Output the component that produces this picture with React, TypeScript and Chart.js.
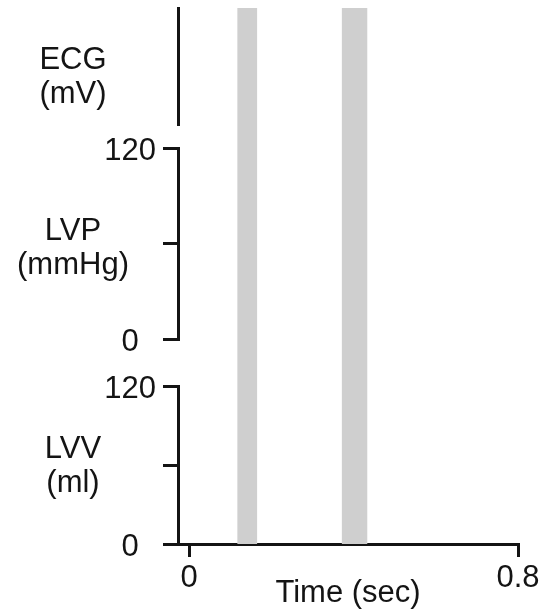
import React, { useEffect, useRef } from 'react';
import { Chart, registerables } from 'chart.js';

Chart.register(...registerables);

// ---- data ----
const timeTicks = [0, 0.8];
const timeTickLabels = ['0', '0.8'];
const lvpTicks = [0, 60, 120];
const lvpTickLabels = ['0', '', '120'];
const lvvTicks = [0, 60, 120];
const lvvTickLabels = ['0', '', '120'];
const ecgTitle = ['ECG', '(mV)'];
const lvpTitle = ['LVP', '(mmHg)'];
const lvvTitle = ['LVV', '(ml)'];
const xTitle = 'Time (sec)';
const band1 = [0.117, 0.166]; // shaded interval 1 (sec)
const band2 = [0.371, 0.434]; // shaded interval 2 (sec)

// ---- style ----
const FONT = '"Liberation Sans", Arial, Helvetica, sans-serif';
const FS = 31;
const INK = '#141414';
const BAND = '#cfcfcf';
const LW = 3;

const panelTitlePlugin = {
  id: 'panelTitles',
  afterDraw(chart: any) {
    const ctx = chart.ctx;
    const panels = [
      { id: 'yECG', at: 0.41, lines: ecgTitle },
      { id: 'yLVP', at: 57, lines: lvpTitle },
      { id: 'yLVV', at: 59, lines: lvvTitle },
    ];
    ctx.save();
    ctx.font = `${FS}px ${FONT}`;
    ctx.fillStyle = INK;
    ctx.textAlign = 'center';
    ctx.textBaseline = 'middle';
    for (const p of panels) {
      const s = chart.scales[p.id];
      const yc = s.getPixelForValue(p.at);
      p.lines.forEach((t: string, i: number) => {
        ctx.fillText(t, 73, yc + (i - (p.lines.length - 1) / 2) * 34);
      });
    }
    ctx.restore();
  },
};

const fixW = (s: any) => {
  s.width = 178;
  s.paddingTop = 0;
  s.paddingBottom = 0;
};

const hiddenGap = (weight: number) => ({
  type: 'linear' as const,
  position: 'left' as const,
  stack: 'left',
  stackWeight: weight,
  afterFit: fixW,
  border: { display: false },
  grid: { display: false },
  ticks: { display: false },
});

const valueAxis = (ticksArr: number[], labelsArr: string[], weight: number) => ({
  type: 'linear' as const,
  position: 'left' as const,
  stack: 'left',
  stackWeight: weight,
  min: 0,
  max: 120,
  afterFit: fixW,
  afterBuildTicks: (s: any) => { s.ticks = ticksArr.map((v) => ({ value: v })); },
  border: { display: true, color: INK, width: LW },
  grid: { drawOnChartArea: false, drawTicks: true, tickLength: 15, lineWidth: LW, color: INK },
  ticks: {
    color: INK,
    padding: 7,
    labelOffset: 3,
    crossAlign: 'center' as const,
    font: { family: FONT, size: FS },
    callback: (v: any) => labelsArr[ticksArr.indexOf(Number(v))] ?? '',
  },
});

export default function App() {
  const ref = useRef<HTMLCanvasElement | null>(null);
  useEffect(() => {
    if (!ref.current) return;
    const bandDs = (b: number[]) => ({
      type: 'line' as const,
      data: [{ x: b[0], y: 1 }, { x: b[1], y: 1 }],
      xAxisID: 'x',
      yAxisID: 'yBand',
      fill: 'start',
      backgroundColor: BAND,
      borderWidth: 0,
      pointRadius: 0,
    });
    const chart = new Chart(ref.current, {
      type: 'line',
      data: { datasets: [bandDs(band1), bandDs(band2)] as any },
      options: {
        responsive: false,
        animation: false,
        events: [],
        layout: { padding: { top: 8, right: 21, bottom: 0, left: 0 } },
        plugins: { legend: { display: false }, tooltip: { enabled: false } },
        scales: {
          x: {
            type: 'linear',
            position: 'bottom',
            min: -0.027,
            max: 0.8,
            z: 1,
            afterFit: (s: any) => {
              s.height = 70;
              s.paddingLeft = 0;
              s.paddingRight = 0;
            },
            afterBuildTicks: (s: any) => { s.ticks = timeTicks.map((v) => ({ value: v })); },
            border: { display: true, color: INK, width: LW },
            grid: { drawOnChartArea: false, drawTicks: true, tickLength: 13, lineWidth: LW, color: INK },
            ticks: {
              color: INK,
              padding: 3,
              maxRotation: 0,
              font: { family: FONT, size: FS },
              callback: (v: any) => timeTickLabels[timeTicks.indexOf(Number(v))] ?? '',
            },
            title: {
              display: true,
              text: xTitle,
              color: INK,
              font: { family: FONT, size: FS },
              padding: { top: 0, bottom: 2 },
            },
          },
          yBand: {
            type: 'linear',
            position: 'right',
            display: false,
            min: 0,
            max: 1,
          },
          yLVV: valueAxis(lvvTicks, lvvTickLabels, 158),
          gap2: hiddenGap(47),
          yLVP: valueAxis(lvpTicks, lvpTickLabels, 191),
          gap1: hiddenGap(23),
          yECG: {
            type: 'linear',
            position: 'left',
            stack: 'left',
            stackWeight: 117,
            min: 0,
            max: 1,
            afterFit: fixW,
            border: { display: true, color: INK, width: LW },
            grid: { display: false },
            ticks: { display: false },
          },
        } as any,
      },
      plugins: [panelTitlePlugin],
    });
    return () => chart.destroy();
  }, []);
  return (
    <div style={{ position: 'absolute', left: 0, top: 0, width: 539, height: 614, background: '#fff' }}>
      <canvas ref={ref} width={539} height={614} style={{ display: 'block' }} />
    </div>
  );
}
